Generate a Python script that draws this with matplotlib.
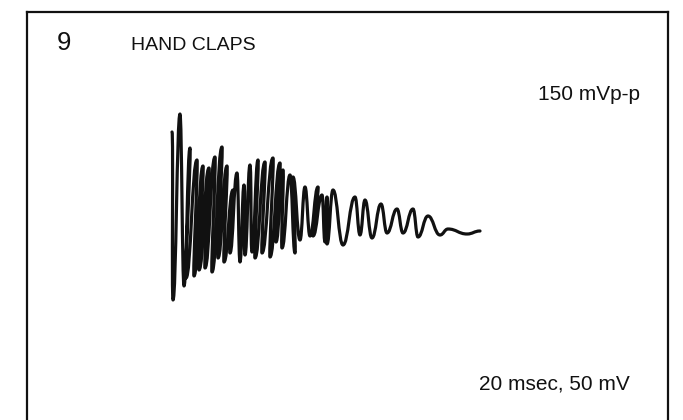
import matplotlib
matplotlib.use("Agg")
import matplotlib.pyplot as plt
from matplotlib.path import Path
from matplotlib.patches import PathPatch

# ---- data (trace extrema, in picture pixel units) ----
trace_x = [172, 173, 180, 184, 190, 186, 197, 194, 203, 199, 209, 205, 215, 212,
           222, 218, 227, 224, 233, 230, 237, 240, 244, 245, 250, 252, 258, 255,
           265, 262, 273, 270, 280, 276, 283, 282, 290, 295, 293, 300, 305, 310,
           318, 313, 322, 325, 327, 327, 333, 343, 355, 360, 365, 372, 381, 387,
           397, 403, 413, 418, 428, 440, 448, 467, 480]
trace_y = [132, 300, 114, 286, 148, 278, 160, 276, 166, 270, 168, 268, 157, 272,
           147, 258, 166, 262, 190, 253, 173, 262, 185, 255, 165, 252, 160, 258,
           162, 253, 158, 257, 163, 242, 170, 248, 175, 253, 177, 240, 187, 236,
           187, 236, 195, 242, 197, 244, 190, 245, 197, 235, 200, 238, 204, 233,
           209, 233, 209, 237, 216, 235, 229, 234, 231]

panel_number = "9"
title = "HAND CLAPS"
amplitude_label = "150 mVp-p"
scale_label = "20 msec, 50 mV"

W, H = 683, 420
fig = plt.figure(figsize=(W / 100, H / 100), dpi=100)
fig.patch.set_facecolor("white")

left, top, right = 27, 12, 667.5
bottom_ext = 21
ax = fig.add_axes([left / W, -bottom_ext / H, (right - left) / W, (H + bottom_ext - top) / H])
ax.set_xlim(left, right)
ax.set_ylim(H + bottom_ext, top)
ax.set_xticks([])
ax.set_yticks([])
for s in ("left", "top", "right"):
    ax.spines[s].set_linewidth(1.6)
    ax.spines[s].set_color("#111111")
ax.spines["bottom"].set_visible(False)

# smooth trace through extrema (horizontal tangents at each extremum)
verts = [(trace_x[0], trace_y[0])]
codes = [Path.MOVETO]
for i in range(1, len(trace_x)):
    x0, y0 = trace_x[i - 1], trace_y[i - 1]
    x1, y1 = trace_x[i], trace_y[i]
    dx = x1 - x0
    h = 0.45 * dx if dx > 3 else 1.5
    verts += [(x0 + h, y0), (x1 - h, y1), (x1, y1)]
    codes += [Path.CURVE4, Path.CURVE4, Path.CURVE4]
ax.add_patch(PathPatch(Path(verts, codes), facecolor="none", edgecolor="#111111",
                       linewidth=2.3, capstyle="round", joinstyle="round"))

font_main = ["Liberation Sans", "DejaVu Sans"]
ax.text(57, 50, panel_number, fontsize=18.5, family=font_main, color="#111111",
        ha="left", va="baseline")
ax.text(131, 50, title, fontsize=14, family=font_main, color="#111111",
        ha="left", va="baseline")
ax.text(640, 100, amplitude_label, fontsize=15, family=font_main, color="#111111",
        ha="right", va="baseline")
ax.text(630, 390, scale_label, fontsize=15, family=font_main, color="#111111",
        ha="right", va="baseline")

fig.savefig("out.png", dpi=100, facecolor="white")
